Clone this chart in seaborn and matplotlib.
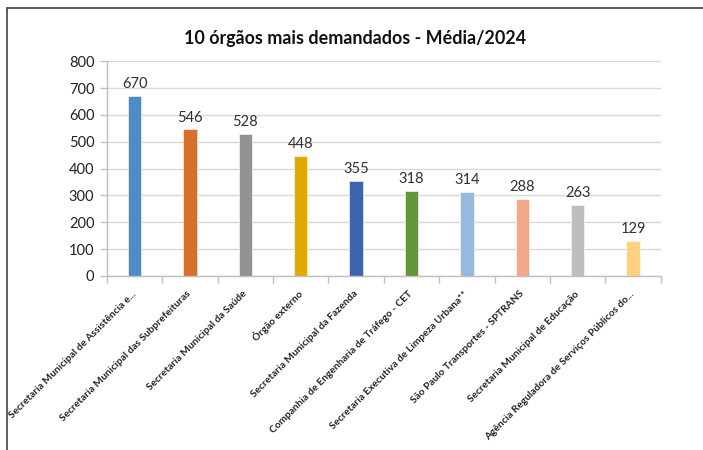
import matplotlib
matplotlib.use('Agg')
import matplotlib.pyplot as plt
import seaborn as sns
import pandas as pd
from matplotlib.lines import Line2D

# Data
orgaos = [
    'Secretaria Municipal de Assistência e...',
    'Secretaria Municipal das Subprefeituras',
    'Secretaria Municipal da Saúde',
    'Órgão externo',
    'Secretaria Municipal da Fazenda',
    'Companhia de Engenharia de Tráfego - CET',
    'Secretaria Executiva de Limpeza Urbana**',
    'São Paulo Transportes - SPTRANS',
    'Secretaria Municipal de Educação',
    'Agência Reguladora de Serviços Públicos do...',
]
media = [670, 546, 528, 448, 355, 318, 314, 288, 263, 129]
cores = ['#4F8BC4', '#D86F2B', '#929292', '#E2A900', '#3E63AE',
         '#62963B', '#97B9E0', '#F2A98A', '#BDBDBD', '#FFD07F']

df = pd.DataFrame({'orgao': orgaos, 'media': media})

sns.set_theme(style='white')
plt.rcParams['font.family'] = ['Lato', 'DejaVu Sans']

fig = plt.figure(figsize=(7.03, 4.5), dpi=100)
ax = fig.add_axes([0.152, 0.387, 0.788, 0.477])

sns.barplot(data=df, x='orgao', y='media', hue='orgao', palette=cores,
            width=0.24, legend=False, ax=ax, saturation=1)

for p in ax.patches:
    p.set_edgecolor('white')
    p.set_linewidth(0.4)

for i, v in enumerate(media):
    ax.text(i, v + 18, str(v), ha='center', va='bottom', fontsize=10.5, color='#303030')

ax.set_ylim(0, 800)
ax.set_yticks(range(0, 801, 100))
ax.set_xlim(-0.5, len(orgaos) - 0.5)
ax.yaxis.grid(True, color='#D9D9D9', linewidth=1)
ax.set_axisbelow(True)
for s in ['top', 'right']:
    ax.spines[s].set_visible(False)
for s in ['left', 'bottom']:
    ax.spines[s].set_color('#BFBFBF')
    ax.spines[s].set_linewidth(1)

ax.set_xlabel('')
ax.set_ylabel('')
ax.tick_params(axis='y', labelsize=10.5, colors='#BFBFBF', labelcolor='#222222',
               left=True, length=5, width=1, pad=4)
ax.set_xticks([x - 0.5 for x in range(len(orgaos) + 1)], minor=True)
ax.tick_params(axis='x', which='minor', bottom=True, length=5, width=1, colors='#BFBFBF')
ax.tick_params(axis='x', which='major', bottom=False, pad=6)
ax.set_xticks(range(len(orgaos)))
ax.set_xticklabels(orgaos, rotation=45, ha='right', va='center', rotation_mode='anchor',
                   fontsize=7.3, fontweight='bold', color='#222222')

fig.text(0.505, 0.915, '10 órgãos mais demandados - Média/2024', ha='center', va='center',
         fontsize=12.9, fontweight='bold', color='#111111')

# frame of the original screenshot
fig.add_artist(Line2D([0.010, 1.0], [0.982, 0.982], color='#444444', linewidth=1.2,
                      transform=fig.transFigure))
fig.add_artist(Line2D([0.010, 0.010], [0.0, 0.982], color='#444444', linewidth=1.2,
                      transform=fig.transFigure))

fig.savefig('out.png', dpi=100)
